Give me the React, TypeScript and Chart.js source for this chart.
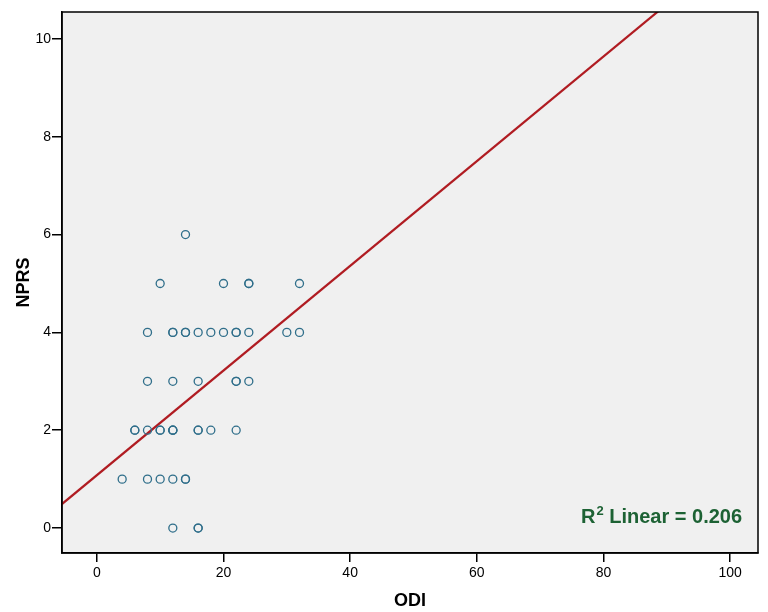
import React, { useEffect, useRef } from "react";
import { Chart, registerables } from "chart.js";

Chart.register(...registerables);

// ODI (x) and NPRS (y) observations, duplicates kept
const odi: number[] = [
  14,
  10, 20, 24, 24, 32,
  8, 12, 12, 14, 14, 16, 18, 20, 22, 22, 24, 30, 32,
  8, 12, 16, 22, 22, 24,
  6, 6, 8, 10, 10, 12, 12, 12, 16, 16, 18, 22,
  4, 8, 10, 12, 14, 14,
  12, 16, 16,
];
const nprs: number[] = [
  6,
  5, 5, 5, 5, 5,
  4, 4, 4, 4, 4, 4, 4, 4, 4, 4, 4, 4, 4,
  3, 3, 3, 3, 3, 3,
  2, 2, 2, 2, 2, 2, 2, 2, 2, 2, 2, 2,
  1, 1, 1, 1, 1, 1,
  0, 0, 0,
];

const xTicks: number[] = [0, 20, 40, 60, 80, 100];
const yTicks: number[] = [0, 2, 4, 6, 8, 10];

const fitIntercept = 1.08;
const fitSlope = 0.107;
const fitLabel = "0.206";

const X_MIN = -5.5;
const X_MAX = 104.4;
const Y_MIN = -0.51;
const Y_MAX = 10.55;

const frameColor = "#000000";
const pointColor = "#2f6e8a";
const lineColor = "#b01c22";
const noteColor = "#1d6234";

const plotPlugin = {
  id: "plotDecor",
  beforeDraw(chart: any) {
    const { ctx, chartArea } = chart;
    ctx.save();
    ctx.fillStyle = "#f0f0f0";
    ctx.fillRect(chartArea.left, chartArea.top, chartArea.right - chartArea.left, chartArea.bottom - chartArea.top);
    ctx.restore();
  },
  afterDraw(chart: any) {
    const { ctx, chartArea } = chart;
    ctx.save();
    ctx.strokeStyle = frameColor;
    ctx.lineWidth = 1.5;
    ctx.strokeRect(chartArea.left, chartArea.top, chartArea.right - chartArea.left, chartArea.bottom - chartArea.top);
    // R² annotation
    ctx.fillStyle = noteColor;
    ctx.textBaseline = "alphabetic";
    ctx.textAlign = "left";
    const baseX = chartArea.right - 177;
    const baseY = chartArea.bottom - 30;
    ctx.font = "bold 20px 'Liberation Sans', Arial, sans-serif";
    ctx.fillText("R", baseX, baseY);
    const rw = ctx.measureText("R").width;
    ctx.font = "bold 13px 'Liberation Sans', Arial, sans-serif";
    ctx.fillText("2", baseX + rw + 1, baseY - 8);
    const sw = ctx.measureText("2").width;
    ctx.font = "bold 20px 'Liberation Sans', Arial, sans-serif";
    ctx.fillText(" Linear = " + fitLabel, baseX + rw + 1 + sw, baseY);
    ctx.restore();
  },
};

export default function App() {
  const ref = useRef<HTMLCanvasElement | null>(null);

  useEffect(() => {
    document.body.style.margin = "0";
    const canvas = ref.current;
    if (!canvas) return;
    const points = odi.map((x, i) => ({ x, y: nprs[i] }));
    const fitLine = [
      { x: X_MIN - 5, y: fitIntercept + fitSlope * (X_MIN - 5) },
      { x: X_MAX + 5, y: fitIntercept + fitSlope * (X_MAX + 5) },
    ];
    const tickFont = { family: "'Liberation Sans', Arial, sans-serif", size: 14 };
    const titleFont = { family: "'Liberation Sans', Arial, sans-serif", size: 18, weight: "bold" as const };
    const chart = new Chart(canvas, {
      type: "scatter",
      data: {
        datasets: [
          {
            type: "line",
            data: fitLine,
            borderColor: lineColor,
            borderWidth: 2.2,
            pointRadius: 0,
            fill: false,
            order: 2,
          } as any,
          {
            type: "scatter",
            data: points,
            pointStyle: "circle",
            pointRadius: 4,
            pointBorderWidth: 1.3,
            borderColor: pointColor,
            backgroundColor: "rgba(0,0,0,0)",
            pointBackgroundColor: "rgba(0,0,0,0)",
            order: 1,
          } as any,
        ],
      },
      options: {
        animation: false,
        responsive: false,
        maintainAspectRatio: false,
        layout: { padding: { top: 12, right: 10, left: 0, bottom: 0 } },
        plugins: { legend: { display: false }, tooltip: { enabled: false } },
        scales: {
          x: {
            type: "linear",
            min: X_MIN,
            max: X_MAX,
            afterBuildTicks: (s: any) => {
              s.ticks = xTicks.map((v) => ({ value: v }));
            },
            afterFit: (s: any) => {
              s.height = 59;
            },
            grid: { drawOnChartArea: false, drawTicks: true, tickLength: 9, color: frameColor, lineWidth: 1.5 },
            border: { display: true, color: frameColor, width: 1.5 },
            ticks: { color: "#000", font: tickFont, padding: 3, maxRotation: 0 },
            title: { display: true, text: "ODI", color: "#000", font: titleFont, padding: { top: 8, bottom: 0 } },
          },
          y: {
            type: "linear",
            min: Y_MIN,
            max: Y_MAX,
            afterBuildTicks: (s: any) => {
              s.ticks = yTicks.map((v) => ({ value: v }));
            },
            afterFit: (s: any) => {
              s.width = 62;
            },
            grid: { drawOnChartArea: false, drawTicks: true, tickLength: 10, color: frameColor, lineWidth: 1.5 },
            border: { display: true, color: frameColor, width: 1.5 },
            ticks: { color: "#000", font: tickFont, padding: 1 },
            title: { display: true, text: "NPRS", color: "#000", font: titleFont, padding: { top: 13, bottom: 0 } },
          },
        },
      },
      plugins: [plotPlugin],
    });
    return () => chart.destroy();
  }, []);

  return (
    <div style={{ position: "relative", width: 768, height: 612, background: "#fff" }}>
      <canvas ref={ref} width={768} height={612} style={{ display: "block", width: 768, height: 612 }} />
    </div>
  );
}
